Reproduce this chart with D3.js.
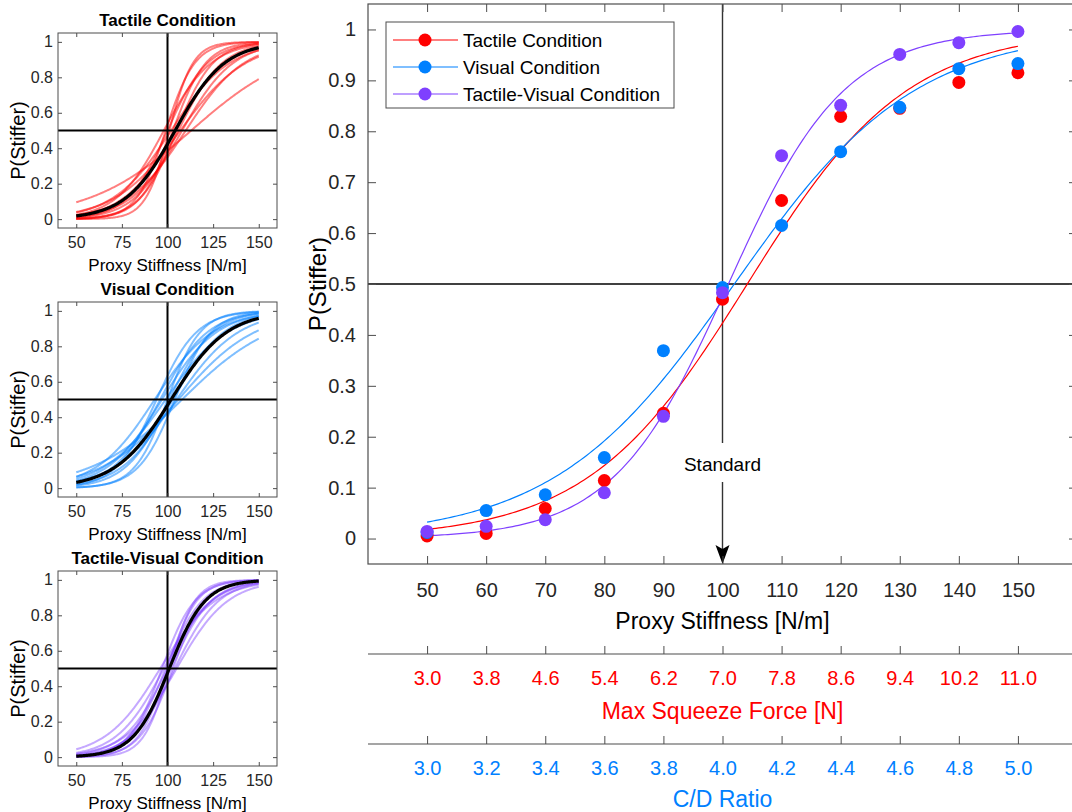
<!DOCTYPE html>
<html lang="en">
<head>
<meta charset="UTF-8">
<title>Stiffness Discrimination</title>
<script src="https://d3js.org/d3.v7.min.js"></script>
<style>
    body { margin: 0; background: #fff; }
    svg { font-family: "Liberation Sans", Arial, sans-serif; }
</style>
</head>
<body>
<svg width="1072" height="812" id="chart"></svg>
<script>
// stimulus levels
var stiffness = [50, 60, 70, 80, 90, 100, 110, 120, 130, 140, 150];
// proportion "stiffer" responses, group data
var tactileP = [0.005, 0.01, 0.059, 0.114, 0.246, 0.47, 0.664, 0.829, 0.845, 0.896, 0.915];
var visualP  = [0.012, 0.055, 0.086, 0.159, 0.369, 0.493, 0.615, 0.760, 0.847, 0.923, 0.933];
var tactVisP = [0.014, 0.024, 0.037, 0.090, 0.240, 0.483, 0.752, 0.851, 0.951, 0.974, 0.996];
// logistic fits [PSE, spread]
var tactileFit = [104.2, 13.55];
var visualFit  = [102.0, 15.3];
var tactVisFit = [101.0, 9.8];
// per-participant fits [PSE, spread]
var tactileSubjects = [[113, 28], [101, 6.5], [99, 8], [103, 9], [105, 10], [100, 11], [106, 12],
                       [104, 14], [98, 13], [108, 14], [102, 16], [110, 16], [107, 18]];
var visualSubjects = [[94, 11], [96, 13], [100, 9], [101, 12], [103, 14], [99, 17], [105, 17],
                      [106, 21], [108, 25], [97, 15], [104, 10], [93, 16]];
var tactVisSubjects = [[97, 9], [99, 10], [100, 8], [102, 11], [104, 12], [105, 14], [98, 13],
                       [96, 15], [101, 7], [103, 9], [100, 12]];
// extra axes tick labels
var forceTicks = ["3.0", "3.8", "4.6", "5.4", "6.2", "7.0", "7.8", "8.6", "9.4", "10.2", "11.0"];
var cdTicks = ["3.0", "3.2", "3.4", "3.6", "3.8", "4.0", "4.2", "4.4", "4.6", "4.8", "5.0"];
var smallXTicks = [50, 75, 100, 125, 150];
var smallYTicks = [0, 0.2, 0.4, 0.6, 0.8, 1];
var mainYTicks = [0, 0.1, 0.2, 0.3, 0.4, 0.5, 0.6, 0.7, 0.8, 0.9, 1];

var red = "#ff0000", blue = "#0080ff", purple = "#7f40ff";
var axisColor = "#4d4d4d";

function psy(fit) {
    return function(x) { return 1 / (1 + Math.exp(-(x - fit[0]) / fit[1])); };
}
var xs = d3.range(50, 150.5, 0.5);

var svg = d3.select("#chart");

// ---------- small panels ----------
function drawPanel(top, title, subjects, color, opacity, fit) {
    var left = 58, right = 277, bottom = top + 195;
    var x = d3.scaleLinear().domain([40, 160]).range([left, right]);
    var y = d3.scaleLinear().domain([-0.05, 1.05]).range([bottom, top]);
    var g = svg.append("g");

    var line = function(f) {
        return d3.line().x(d => x(d)).y(d => y(f(d)))(xs);
    };

    g.append("g").selectAll("path")
        .data(subjects)
        .join("path")
        .attr("d", d => line(psy(d)))
        .attr("fill", "none")
        .attr("stroke", color)
        .attr("stroke-opacity", opacity)
        .attr("stroke-width", 2);

    g.append("path")
        .attr("d", line(psy(fit)))
        .attr("fill", "none")
        .attr("stroke", "#000")
        .attr("stroke-width", 3.2);

    g.append("line").attr("x1", x(100)).attr("x2", x(100)).attr("y1", top).attr("y2", bottom)
        .attr("stroke", "#000").attr("stroke-width", 2);
    g.append("line").attr("x1", left).attr("x2", right).attr("y1", y(0.5)).attr("y2", y(0.5))
        .attr("stroke", "#000").attr("stroke-width", 2);

    g.append("g").attr("transform", "translate(0," + bottom + ")")
        .call(d3.axisBottom(x).tickValues(smallXTicks).tickSize(-4).tickSizeOuter(0).tickPadding(9));
    g.append("g").attr("transform", "translate(" + left + ",0)")
        .call(d3.axisLeft(y).tickValues(smallYTicks).tickFormat(d3.format("~g")).tickSize(-4).tickSizeOuter(0).tickPadding(5));
    g.append("g").attr("transform", "translate(0," + top + ")")
        .call(d3.axisTop(x).tickValues(smallXTicks).tickSize(-4).tickSizeOuter(0).tickFormat(""));
    g.append("g").attr("transform", "translate(" + right + ",0)")
        .call(d3.axisRight(y).tickValues(smallYTicks).tickSize(-4).tickSizeOuter(0).tickFormat(""));
    g.selectAll(".domain").remove();
    g.selectAll(".tick line").attr("stroke", axisColor);
    g.selectAll(".tick text").attr("font-size", 16).attr("fill", "#262626")
        .attr("font-family", "Liberation Sans, Arial, sans-serif");

    g.append("rect").attr("x", left).attr("y", top).attr("width", right - left).attr("height", bottom - top)
        .attr("fill", "none").attr("stroke", axisColor).attr("stroke-width", 1);

    g.append("text").attr("x", (left + right) / 2).attr("y", top - 7)
        .attr("text-anchor", "middle").attr("font-size", 17).attr("font-weight", "bold")
        .text(title);
    g.append("text").attr("x", (left + right) / 2).attr("y", bottom + 43)
        .attr("text-anchor", "middle").attr("font-size", 17)
        .text("Proxy Stiffness [N/m]");
    g.append("text")
        .attr("transform", "translate(25," + ((top + bottom) / 2 + 10) + ") rotate(-90)")
        .attr("text-anchor", "middle").attr("font-size", 20)
        .text("P(Stiffer)");
}

drawPanel(33, "Tactile Condition", tactileSubjects, red, 0.5, tactileFit);
drawPanel(302, "Visual Condition", visualSubjects, blue, 0.5, visualFit);
drawPanel(571, "Tactile-Visual Condition", tactVisSubjects, purple, 0.45, tactVisFit);

// ---------- main plot ----------
var mLeft = 368, mRight = 1077, mTop = 4, mBottom = 564;
var x = d3.scaleLinear().domain([40, 160]).range([mLeft, mRight]);
var y = d3.scaleLinear().domain([-0.05, 1.05]).range([mBottom, mTop]);
var main = svg.append("g");

// reference lines
main.append("line").attr("x1", mLeft).attr("x2", mRight).attr("y1", y(0.5)).attr("y2", y(0.5))
    .attr("stroke", "#000").attr("stroke-width", 1.3);
main.append("line").attr("x1", x(100)).attr("x2", x(100)).attr("y1", mTop).attr("y2", 443)
    .attr("stroke", "#333").attr("stroke-width", 1.4);
main.append("line").attr("x1", x(100)).attr("x2", x(100)).attr("y1", 482).attr("y2", 550)
    .attr("stroke", "#333").attr("stroke-width", 1.4);
main.append("path")
    .attr("d", "M" + (x(100) - 7) + ",545 L" + x(100) + ",564 L" + (x(100) + 7) + ",545 L" + x(100) + ",549 Z")
    .attr("fill", "#000");
main.append("text").attr("x", x(100)).attr("y", 471).attr("text-anchor", "middle")
    .attr("font-size", 19).text("Standard");

var series = [
    {name: "Tactile Condition", color: red, p: tactileP, fit: tactileFit},
    {name: "Visual Condition", color: blue, p: visualP, fit: visualFit},
    {name: "Tactile-Visual Condition", color: purple, p: tactVisP, fit: tactVisFit}
];

series.forEach(function(s) {
    var f = psy(s.fit);
    main.append("path")
        .attr("d", d3.line().x(d => x(d)).y(d => y(f(d)))(xs))
        .attr("fill", "none").attr("stroke", s.color).attr("stroke-width", 1.2);
});
series.forEach(function(s) {
    main.append("g").selectAll("circle")
        .data(stiffness)
        .join("circle")
        .attr("cx", d => x(d))
        .attr("cy", (d, i) => y(s.p[i]))
        .attr("r", 6.5)
        .attr("fill", s.color);
});

// axes
main.append("g").attr("transform", "translate(0," + mBottom + ")")
    .call(d3.axisBottom(x).tickValues(stiffness).tickSize(-8).tickSizeOuter(0).tickPadding(19));
main.append("g").attr("transform", "translate(" + mLeft + ",0)")
    .call(d3.axisLeft(y).tickValues(mainYTicks).tickFormat(d3.format("~g")).tickSize(-8).tickSizeOuter(0).tickPadding(12));
main.append("g").attr("transform", "translate(0," + mTop + ")")
    .call(d3.axisTop(x).tickValues(stiffness).tickSize(-8).tickSizeOuter(0).tickFormat(""));
main.append("g").attr("transform", "translate(" + mRight + ",0)")
    .call(d3.axisRight(y).tickValues(mainYTicks).tickSize(-8).tickSizeOuter(0).tickFormat(""));

// secondary axes: max squeeze force and C/D ratio
var xForce = d3.scalePoint().domain(forceTicks).range([x(50), x(150)]);
var xCD = d3.scalePoint().domain(cdTicks).range([x(50), x(150)]);
var fAxis = main.append("g").attr("transform", "translate(0,654)")
    .call(d3.axisBottom(xForce).tickSize(-8).tickSizeOuter(0).tickPadding(17));
var cAxis = main.append("g").attr("transform", "translate(0,744)")
    .call(d3.axisBottom(xCD).tickSize(-8).tickSizeOuter(0).tickPadding(17));
[fAxis, cAxis].forEach(function(a) {
    a.select(".domain").remove();
    a.append("line").attr("x1", mLeft).attr("x2", mRight).attr("y1", 0).attr("y2", 0)
        .attr("stroke", axisColor).attr("stroke-width", 1.2);
});

main.selectAll(".domain").remove();
main.selectAll(".tick line").attr("stroke", axisColor);
main.selectAll(".tick text").attr("font-size", 20).attr("fill", "#262626")
    .attr("font-family", "Liberation Sans, Arial, sans-serif");
fAxis.selectAll(".tick text").attr("fill", red);
cAxis.selectAll(".tick text").attr("fill", blue);

main.append("rect").attr("x", mLeft).attr("y", mTop).attr("width", mRight - mLeft).attr("height", mBottom - mTop)
    .attr("fill", "none").attr("stroke", axisColor).attr("stroke-width", 1.2);

// labels
main.append("text").attr("x", (mLeft + mRight) / 2).attr("y", 629).attr("text-anchor", "middle")
    .attr("font-size", 23).text("Proxy Stiffness [N/m]");
main.append("text").attr("x", (mLeft + mRight) / 2).attr("y", 719).attr("text-anchor", "middle")
    .attr("font-size", 23).attr("fill", red).text("Max Squeeze Force [N]");
main.append("text").attr("x", (mLeft + mRight) / 2).attr("y", 807).attr("text-anchor", "middle")
    .attr("font-size", 23).attr("fill", blue).text("C/D Ratio");
main.append("text")
    .attr("transform", "translate(326," + ((mTop + mBottom) / 2) + ") rotate(-90)")
    .attr("text-anchor", "middle").attr("font-size", 24).text("P(Stiffer)");

// legend
var legend = main.append("g");
legend.append("rect").attr("x", 386).attr("y", 22).attr("width", 288).attr("height", 86)
    .attr("fill", "#fff").attr("stroke", axisColor).attr("stroke-width", 1);
var item = legend.selectAll("g.item")
    .data(series)
    .join("g")
    .attr("class", "item")
    .attr("transform", (d, i) => "translate(0," + (40 + i * 27) + ")");
item.append("line").attr("x1", 393).attr("x2", 458).attr("stroke", d => d.color).attr("stroke-width", 1.2);
item.append("circle").attr("cx", 425).attr("r", 6.5).attr("fill", d => d.color);
item.append("text").attr("x", 463).attr("y", 7).attr("font-size", 19).text(d => d.name);
</script>
</body>
</html>
